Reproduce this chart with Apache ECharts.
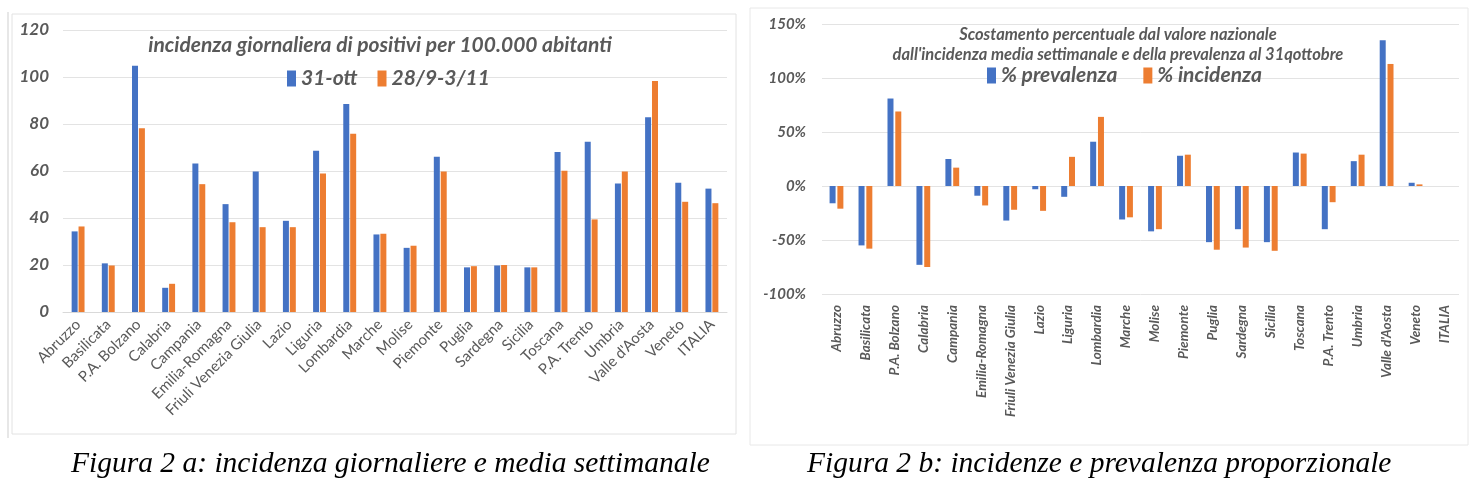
<!DOCTYPE html>
<html>
<head>
    <meta charset="utf-8">
    <title>ECharts</title>
    <script src="https://cdn.jsdelivr.net/npm/echarts@6/dist/echarts.min.js"></script>
    <style>
        html, body { margin: 0; padding: 0; background: #fff; }
    </style>
</head>
<body>
    <div id="main" style="width:1472px;height:497px;"></div>
    <script type="text/javascript">
        // regioni (stesso ordine nei due grafici)
        var regioni = ['Abruzzo', 'Basilicata', 'P.A. Bolzano', 'Calabria', 'Campania', 'Emilia-Romagna',
            'Friuli Venezia Giulia', 'Lazio', 'Liguria', 'Lombardia', 'Marche', 'Molise', 'Piemonte',
            'Puglia', 'Sardegna', 'Sicilia', 'Toscana', 'P.A. Trento', 'Umbria', "Valle d'Aosta", 'Veneto', 'ITALIA'];

        // figura 2a: incidenza giornaliera per 100.000 abitanti
        var incid31ott = [34.3, 20.7, 104.8, 10.3, 63.2, 45.9, 59.8, 38.8, 68.6, 88.5, 33.0,
            27.3, 66.1, 19.0, 19.8, 19.0, 68.1, 72.4, 54.7, 82.9, 55.0, 52.5];
        var incidMedia = [36.4, 19.8, 78.2, 12.0, 54.4, 38.2, 36.1, 36.1, 58.9, 75.9, 33.3,
            28.2, 59.8, 19.5, 20.0, 19.0, 60.1, 39.4, 59.8, 98.3, 46.9, 46.3];

        // figura 2b: scostamento % dal valore nazionale
        var percPrevalenza = [-16, -55, 81, -73, 25, -9, -32, -3, -10, 41, -31,
            -42, 28, -52, -40, -52, 31, -40, 23, 135, 3, 0];
        var percIncidenza = [-21, -58, 69, -75, 17, -18, -22, -23, 27, 64, -29,
            -40, 29, -59, -57, -60, 30, -15, 29, 113, 1.5, 0];

        var ticksA = [0, 20, 40, 60, 80, 100, 120];
        var ticksB = [-100, -50, 0, 50, 100, 150];

        var blu = '#4472C4', arancio = '#ED7D31', grigio = '#595959';
        var fontChart = 'Lato';

        var myChart = echarts.init(document.getElementById('main'));

        var option = {
            animation: false,
            backgroundColor: '#fff',
            color: [blu, arancio],
            title: [
                {
                    text: 'incidenza giornaliera di positivi per 100.000 abitanti',
                    left: 375, top: 30, textAlign: 'center',
                    textStyle: {fontFamily: fontChart, fontSize: 21, fontStyle: 'italic', fontWeight: 'bold', color: grigio}
                },
                {
                    text: "Scostamento percentuale dal valore nazionale\ndall'incidenza media settimanale e della prevalenza al 31qottobre",
                    left: 1113, top: 20, textAlign: 'center',
                    textStyle: {fontFamily: fontChart, fontSize: 16.5, lineHeight: 20, fontStyle: 'italic', fontWeight: 'bold', color: grigio}
                }
            ],
            legend: [
                {
                    data: ['31-ott', '28/9-3/11'],
                    left: 282, top: 63, itemWidth: 9, itemHeight: 16, itemGap: 20,
                    icon: 'rect',
                    textStyle: {fontFamily: fontChart, fontSize: 21, fontStyle: 'italic', fontWeight: 'bold', color: grigio}
                },
                {
                    data: ['% prevalenza', '% incidenza'],
                    left: 982, top: 60, itemWidth: 9, itemHeight: 16, itemGap: 26,
                    icon: 'rect',
                    textStyle: {fontFamily: fontChart, fontSize: 21, fontStyle: 'italic', fontWeight: 'bold', color: grigio}
                }
            ],
            grid: [
                {left: 63, top: 30, width: 664, height: 282},
                {left: 822, top: 24, width: 637, height: 270}
            ],
            xAxis: [
                {
                    type: 'category', gridIndex: 0, data: regioni,
                    axisTick: {show: false},
                    axisLine: {lineStyle: {color: '#d9d9d9'}},
                    axisLabel: {interval: 0, rotate: 45, margin: 10, color: grigio, fontFamily: fontChart, fontSize: 15}
                },
                {
                    type: 'category', gridIndex: 1, data: regioni,
                    axisTick: {show: false},
                    axisLine: {show: false, onZero: false},
                    axisLabel: {interval: 0, rotate: 90, margin: 11, color: grigio, fontFamily: fontChart, fontSize: 13.5,
                        fontStyle: 'italic', fontWeight: 'bold'}
                }
            ],
            yAxis: [
                {
                    type: 'value', gridIndex: 0,
                    min: ticksA[0], max: ticksA[ticksA.length - 1], interval: ticksA[1] - ticksA[0],
                    splitLine: {lineStyle: {color: '#e3e3e3'}},
                    axisLabel: {margin: 14, color: grigio, fontFamily: fontChart, fontSize: 17, fontStyle: 'italic', fontWeight: 'bold'}
                },
                {
                    type: 'value', gridIndex: 1,
                    min: ticksB[0], max: ticksB[ticksB.length - 1], interval: ticksB[1] - ticksB[0],
                    splitLine: {lineStyle: {color: '#e3e3e3'}},
                    axisLabel: {margin: 16, formatter: '{value}%', color: grigio, fontFamily: fontChart, fontSize: 15,
                        fontStyle: 'italic', fontWeight: 'bold'}
                }
            ],
            series: [
                {name: '31-ott', type: 'bar', xAxisIndex: 0, yAxisIndex: 0, data: incid31ott,
                    barWidth: 6, barGap: '15%', itemStyle: {color: blu}},
                {name: '28/9-3/11', type: 'bar', xAxisIndex: 0, yAxisIndex: 0, data: incidMedia,
                    barWidth: 6, barGap: '15%', itemStyle: {color: arancio}},
                {name: '% prevalenza', type: 'bar', xAxisIndex: 1, yAxisIndex: 1, data: percPrevalenza,
                    barWidth: 6, barGap: '30%', itemStyle: {color: blu}},
                {name: '% incidenza', type: 'bar', xAxisIndex: 1, yAxisIndex: 1, data: percIncidenza,
                    barWidth: 6, barGap: '30%', itemStyle: {color: arancio}}
            ],
            graphic: [
                // cornici delle due immagini
                {type: 'rect', silent: true, z: -1, shape: {x: 12, y: 14, width: 724, height: 420},
                    style: {fill: 'none', stroke: '#e2e2e2', lineWidth: 1}},
                {type: 'line', silent: true, z: -1, shape: {x1: 8, y1: 12, x2: 8, y2: 438},
                    style: {stroke: '#cfcfcf', lineWidth: 1}},
                {type: 'rect', silent: true, z: -1, shape: {x: 750, y: 8, width: 718, height: 437},
                    style: {fill: 'none', stroke: '#e8e8e8', lineWidth: 1}},
                // didascalie
                {type: 'text', left: 71, top: 449,
                    style: {text: 'Figura 2 a: incidenza giornaliere e media settimanale', fill: '#000',
                        font: 'italic 29.5px "Liberation Serif", serif'}},
                {type: 'text', left: 807, top: 449,
                    style: {text: 'Figura 2 b: incidenze e prevalenza proporzionale', fill: '#000',
                        font: 'italic 29.5px "Liberation Serif", serif'}}
            ]
        };

        myChart.setOption(option);
    </script>
</body>
</html>
